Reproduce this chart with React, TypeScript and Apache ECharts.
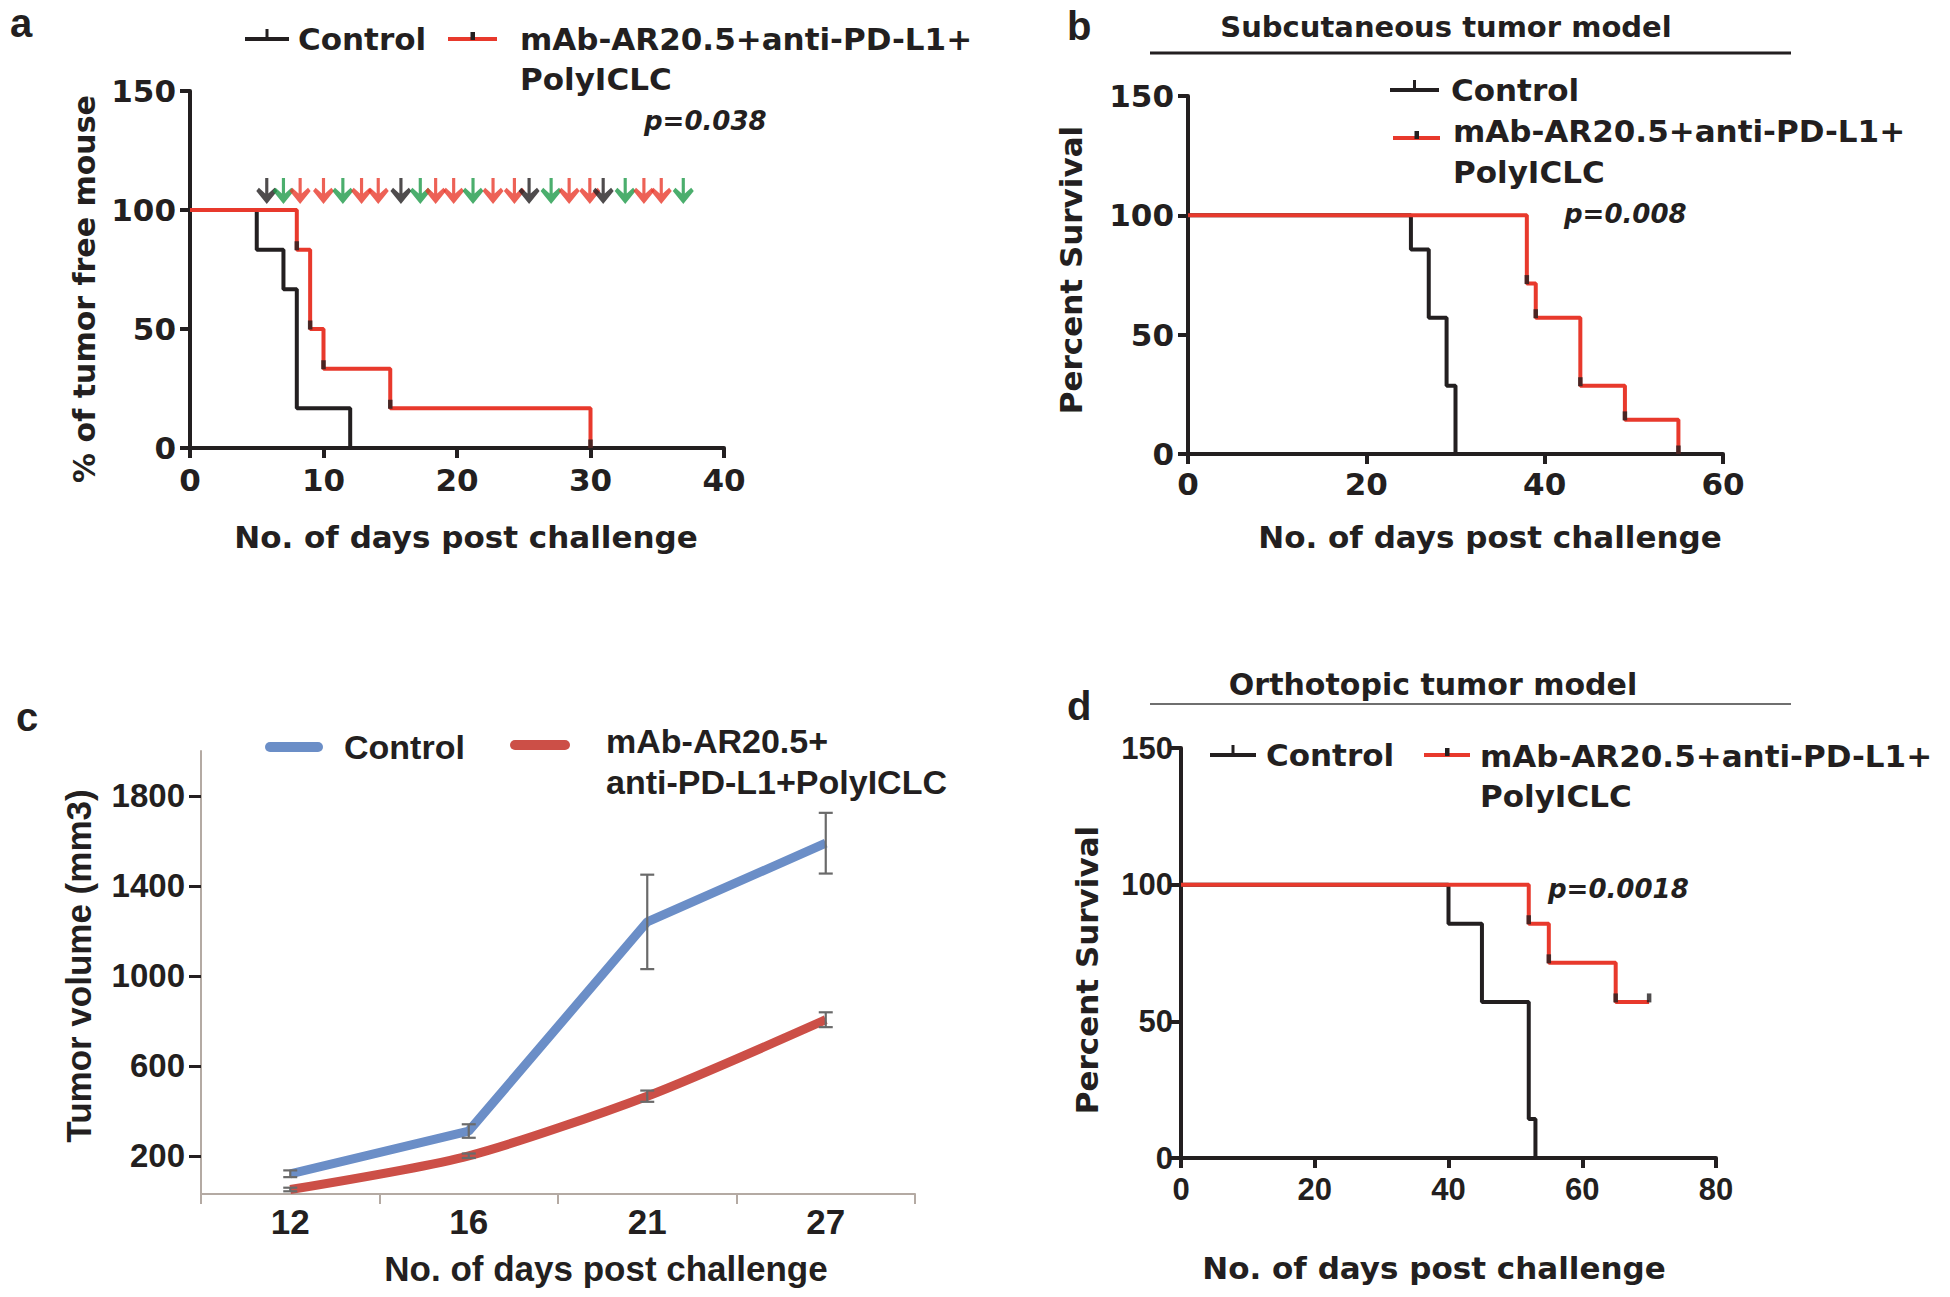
import React, { useEffect, useRef } from "react";
import * as echarts from "echarts";

// ---------- Panel a: tumor-free survival ----------
const aControlDays = [0, 5, 7, 8, 12];
const aControlPct = [100, 83.3, 66.7, 16.7, 0];
const aTreatDays = [0, 8, 9, 10, 15, 30];
const aTreatPct = [100, 83.3, 50, 33.3, 16.7, 0];
const aArrowDays = [5.75, 7.0, 8.25, 10.0, 11.45, 12.85, 14.1, 15.8, 17.25, 18.4, 19.75, 21.2, 22.7, 24.3, 25.4, 27.05, 28.4, 29.95, 30.95, 32.6, 34.0, 35.3, 36.95];
const aArrowKinds = ["k", "g", "r", "r", "g", "r", "r", "k", "g", "r", "r", "g", "r", "r", "k", "g", "r", "r", "k", "g", "r", "r", "g"];
const aArrowLevel = 108;

// ---------- Panel b: subcutaneous survival ----------
const bControlDays = [0, 25, 27, 29, 30];
const bControlPct = [100, 85.7, 57.1, 28.6, 0];
const bTreatDays = [0, 38, 39, 44, 49, 55];
const bTreatPct = [100, 71.4, 57.1, 28.6, 14.3, 0];

// ---------- Panel c: tumor volume ----------
const cDays = ["12", "16", "21", "27"];
const cControl = [120, 310, 1240, 1590];
const cControlErr = [15, 30, 210, 135];
const cTreat = [50, 200, 465, 805];
const cTreatErr = [8, 10, 25, 33];
const cTicks = [200, 600, 1000, 1400, 1800];

// ---------- Panel d: orthotopic survival ----------
const dControlDays = [0, 40, 45, 52, 53];
const dControlPct = [100, 85.7, 57.1, 14.3, 0];
const dTreatDays = [0, 52, 55, 65, 70];
const dTreatPct = [100, 85.7, 71.4, 57.1, 57.1];

const INK = "#231f20";
const RED = "#e8392c";
const GREEN = "#1e9a48";
const BLUE = "#6b8ec7";
const CRED = "#cc4f47";
const DJ = "DejaVu Sans";
const LS = "Liberation Sans";

const ARROW = "path://M8.5,0 L11.5,0 L11.5,15 L17.5,9.5 L20,12.5 L10,25 L0,12.5 L2.5,9.5 L8.5,15 Z";

const zip = (xs: number[], ys: number[]) => xs.map((x, i) => [x, ys[i]]);

function kmAxes(grid: number, xmax: number, xint: number, xFont: any, yFont: any, xMargin: number, yMargin: number) {
  const line = { show: true, onZero: false, lineStyle: { color: INK, width: 4 } };
  const tick = { show: true, length: 10, lineStyle: { color: INK, width: 4 } };
  return {
    x: {
      type: "value", gridIndex: grid, min: 0, max: xmax, interval: xint,
      axisLine: line, axisTick: tick, splitLine: { show: false },
      axisLabel: { color: INK, fontWeight: "bold", margin: xMargin, ...xFont },
    },
    y: {
      type: "value", gridIndex: grid, min: 0, max: 150, interval: 50,
      axisLine: line, axisTick: tick, splitLine: { show: false },
      axisLabel: { color: INK, fontWeight: "bold", margin: yMargin, ...yFont },
    },
  };
}

function stepSeries(grid: number, days: number[], pct: number[], color: string, z: number) {
  return {
    type: "line", xAxisIndex: grid, yAxisIndex: grid, step: "end",
    data: zip(days, pct), symbol: "none", silent: true, z,
    lineStyle: { color, width: 4 },
  };
}

function censorSeries(grid: number, pts: number[][]) {
  return {
    type: "scatter", xAxisIndex: grid, yAxisIndex: grid, data: pts,
    symbol: "rect", symbolSize: [4.5, 9], symbolOffset: [0, -4], z: 6, silent: true,
    itemStyle: { color: INK },
  };
}

function txt(x: number, y: number, text: string, size: number, family: string, opts: any = {}) {
  return {
    type: "text", x, y, rotation: opts.rotation || 0, z: 10,
    style: {
      text, fill: opts.fill || INK, fontSize: size, fontFamily: family,
      fontWeight: opts.weight || "bold", fontStyle: opts.italic ? "italic" : "normal",
      align: opts.align || "left", verticalAlign: "middle",
    },
  };
}

function hline(x1: number, x2: number, y: number, color: string, width: number, cap = "butt") {
  return { type: "line", z: 10, shape: { x1, y1: y, x2, y2: y }, style: { stroke: color, lineWidth: width, lineCap: cap } };
}

function legendKM(x1: number, x2: number, y: number, color: string) {
  const cx = (x1 + x2) / 2;
  const items: any[] = [hline(x1, x2, y, color, 4)];
  if (color === INK) {
    items.push({ type: "line", z: 10, shape: { x1: cx, y1: y, x2: cx, y2: y - 10 }, style: { stroke: INK, lineWidth: 3 } });
  } else {
    items.push({ type: "rect", z: 11, shape: { x: cx - 2, y: y - 7, width: 4.5, height: 8 }, style: { fill: INK } });
  }
  return items;
}

export default function App() {
  const ref = useRef<HTMLDivElement>(null);
  useEffect(() => {
    if (!ref.current) return;
    const chart = echarts.init(ref.current, null, { renderer: "svg" });

    const dj31 = { fontFamily: DJ, fontSize: 31 };
    const ls31 = { fontFamily: LS, fontSize: 31 };
    const A = kmAxes(0, 40, 10, dj31, dj31, 16, 14);
    const B = kmAxes(1, 60, 20, dj31, dj31, 14, 14);
    const D = kmAxes(3, 80, 20, ls31, ls31, 16, 8);

    const cX = {
      type: "category", gridIndex: 2, data: cDays, boundaryGap: true,
      axisLine: { show: true, lineStyle: { color: "#b4aaa3", width: 2 } },
      axisTick: { show: true, length: 10, lineStyle: { color: "#b4aaa3", width: 2 } },
      axisLabel: { color: INK, fontFamily: LS, fontWeight: "bold", fontSize: 35, margin: 10 },
      splitLine: { show: false },
    };
    const cY = {
      type: "value", gridIndex: 2, min: 30, max: 2000,
      axisLine: { show: true, lineStyle: { color: "#b4aaa3", width: 2 } },
      axisTick: { show: true, length: 12, customValues: cTicks, lineStyle: { color: INK, width: 3 } },
      axisLabel: {
        color: INK, fontFamily: LS, fontWeight: "bold", fontSize: 33, margin: 16, customValues: cTicks,
        formatter: (v: number) => String(v),
      },
      splitLine: { show: false },
    };

    const arrowColors: Record<string, string> = { k: INK, g: GREEN, r: RED };

    const errRender = (color: string) => (params: any, api: any) => {
      const x = api.value(0);
      const y = api.value(1);
      const e = api.value(2);
      const hi = api.coord([x, y + e]);
      const lo = api.coord([x, y - e]);
      const w = 7;
      const st = { stroke: color, lineWidth: 2.2 };
      return {
        type: "group",
        children: [
          { type: "line", shape: { x1: hi[0], y1: hi[1], x2: lo[0], y2: lo[1] }, style: st },
          { type: "line", shape: { x1: hi[0] - w, y1: hi[1], x2: hi[0] + w, y2: hi[1] }, style: st },
          { type: "line", shape: { x1: lo[0] - w, y1: lo[1], x2: lo[0] + w, y2: lo[1] }, style: st },
        ],
      };
    };

    const graphic: any[] = [
      // panel letters
      txt(10, 23, "a", 40, LS),
      txt(1067, 26, "b", 40, LS),
      txt(16, 717, "c", 40, LS),
      txt(1067, 706, "d", 40, LS),
      // panel a legend & labels
      ...legendKM(245, 289, 39, INK),
      txt(298, 39, "Control", 31, DJ),
      ...legendKM(448, 497, 39, RED),
      txt(520, 39, "mAb-AR20.5+anti-PD-L1+", 31, DJ),
      txt(520, 79, "PolyICLC", 31, DJ),
      txt(644, 121, "p=0.038", 26, DJ, { italic: true }),
      txt(84, 289, "% of tumor free mouse", 30, DJ, { rotation: Math.PI / 2, align: "center" }),
      txt(466, 537, "No. of days post challenge", 31, DJ, { align: "center" }),
      // panel b
      txt(1446, 27, "Subcutaneous tumor model", 29, DJ, { align: "center" }),
      hline(1150, 1791, 53, INK, 3),
      ...legendKM(1390, 1439, 90, INK),
      txt(1451, 90, "Control", 31, DJ),
      ...legendKM(1393, 1440, 138, RED),
      txt(1453, 131, "mAb-AR20.5+anti-PD-L1+", 31, DJ),
      txt(1453, 172, "PolyICLC", 31, DJ),
      txt(1564, 214, "p=0.008", 26, DJ, { italic: true }),
      txt(1071, 270, "Percent Survival", 31, DJ, { rotation: Math.PI / 2, align: "center" }),
      txt(1490, 537, "No. of days post challenge", 31, DJ, { align: "center" }),
      // panel c
      hline(270, 318, 747, BLUE, 10, "round"),
      txt(344, 747, "Control", 34, LS),
      hline(515, 565, 745, CRED, 10, "round"),
      txt(606, 741, "mAb-AR20.5+", 34, LS),
      txt(606, 782, "anti-PD-L1+PolyICLC", 34, LS),
      txt(78, 966, "Tumor volume (mm3)", 35, LS, { rotation: Math.PI / 2, align: "center" }),
      txt(606, 1268, "No. of days post challenge", 35, LS, { align: "center" }),
      // panel d
      txt(1433, 684, "Orthotopic tumor model", 30, DJ, { align: "center" }),
      hline(1150, 1791, 704, "#6f6f6f", 2),
      ...legendKM(1210, 1256, 755, INK),
      txt(1266, 755, "Control", 31, DJ),
      ...legendKM(1424, 1470, 755, RED),
      txt(1480, 756, "mAb-AR20.5+anti-PD-L1+", 31, DJ),
      txt(1480, 796, "PolyICLC", 31, DJ),
      txt(1548, 889, "p=0.0018", 26, DJ, { italic: true }),
      txt(1087, 970, "Percent Survival", 31, DJ, { rotation: Math.PI / 2, align: "center" }),
      txt(1434, 1268, "No. of days post challenge", 31, DJ, { align: "center" }),
    ];

    chart.setOption({
      animation: false,
      backgroundColor: "#ffffff",
      grid: [
        { left: 190, top: 91, width: 534, height: 357 },
        { left: 1188, top: 96, width: 535, height: 358 },
        { left: 201, top: 751, width: 714, height: 443 },
        { left: 1181, top: 748, width: 535, height: 410 },
      ],
      xAxis: [A.x, B.x, cX, D.x],
      yAxis: [A.y, B.y, cY, D.y],
      series: [
        // a
        stepSeries(0, aControlDays, aControlPct, INK, 3),
        stepSeries(0, aTreatDays, aTreatPct, RED, 4),
        censorSeries(0, zip(aTreatDays.slice(1), aTreatPct.slice(1))),
        {
          type: "scatter", xAxisIndex: 0, yAxisIndex: 0, symbol: ARROW, symbolSize: [21, 26], z: 7, silent: true,
          data: aArrowDays.map((d, i) => ({ value: [d, aArrowLevel], itemStyle: { color: arrowColors[aArrowKinds[i]] } })),
        },
        // b
        stepSeries(1, bControlDays, bControlPct, INK, 3),
        stepSeries(1, bTreatDays, bTreatPct, RED, 4),
        censorSeries(1, zip(bTreatDays.slice(1), bTreatPct.slice(1))),
        // c
        {
          type: "line", xAxisIndex: 2, yAxisIndex: 2, data: cControl, symbol: "none", z: 3, silent: true,
          lineStyle: { color: BLUE, width: 9 },
        },
        {
          type: "line", xAxisIndex: 2, yAxisIndex: 2, data: cTreat, symbol: "none", smooth: 0.25, z: 3, silent: true,
          lineStyle: { color: CRED, width: 9 },
        },
        {
          type: "custom", xAxisIndex: 2, yAxisIndex: 2, z: 5, silent: true,
          renderItem: errRender("#6a6a6a"),
          encode: { x: 0, y: 1 },
          data: cControl.map((v, i) => [i, v, cControlErr[i]]),
        },
        {
          type: "custom", xAxisIndex: 2, yAxisIndex: 2, z: 5, silent: true,
          renderItem: errRender("#6a6a6a"),
          encode: { x: 0, y: 1 },
          data: cTreat.map((v, i) => [i, v, cTreatErr[i]]),
        },
        // d
        stepSeries(3, dControlDays, dControlPct, INK, 3),
        stepSeries(3, dTreatDays, dTreatPct, RED, 4),
        censorSeries(3, zip(dTreatDays.slice(1), dTreatPct.slice(1))),
      ],
      graphic,
    });
    return () => chart.dispose();
  }, []);
  return (
    <div
      ref={ref}
      style={{ position: "fixed", left: 0, top: 0, width: 1950, height: 1297, background: "#fff" }}
    />
  );
}
